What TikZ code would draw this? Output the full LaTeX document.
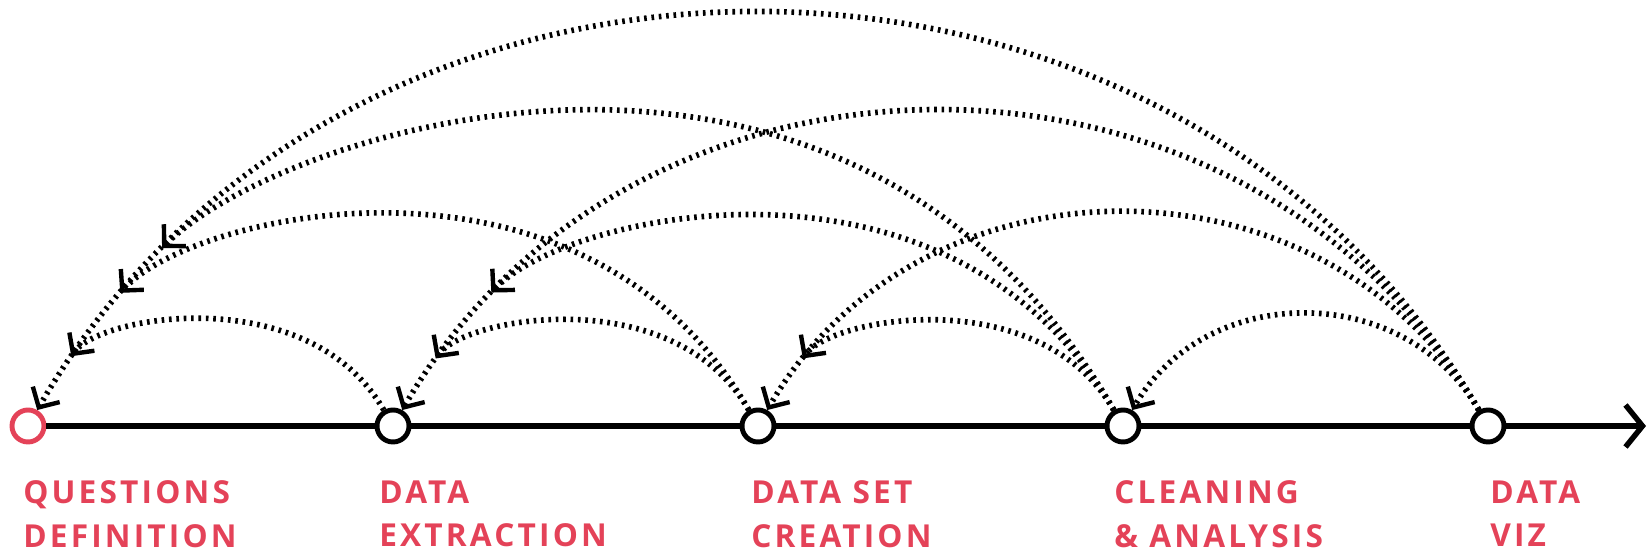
\documentclass[tikz,border=0pt]{standalone}
\usepackage{fontspec}
\newfontfamily\labelfont[LetterSpace=10]{Open Sans}
\definecolor{vizred}{RGB}{228,66,88}
\usetikzlibrary{arrows.meta,positioning}

\begin{document}
\begin{tikzpicture}[
    stage/.style={draw, circle, line width=2.8pt, fill=white,
                  minimum size=0.64cm, inner sep=0pt},
    axis/.style={line width=3.1pt},
    feedback/.style={line width=3.2pt, dash pattern=on 1.5pt off 2.7pt,
                 -{Straight Barb[length=0.3cm,width=0.62cm,line width=2.5pt]}},
    lbl/.style={anchor=north west, inner sep=0pt, align=left, text=vizred,
                font=\labelfont\bfseries\fontsize{18}{25}\selectfont}
  ]
  \useasboundingbox (0,-2.6) rectangle (32.96,8.52);
  % stages on the time line
  \node[stage, draw=vizred] (A) at (0.56,0) {};
  \node[stage] (B) at (7.86,0) {};
  \node[stage] (C) at (15.16,0) {};
  \node[stage] (D) at (22.46,0) {};
  \node[stage] (E) at (29.76,0) {};
  \coordinate (end) at (32.92,0);
  \draw[axis] (A) -- (B); \draw[axis] (B) -- (C);
  \draw[axis] (C) -- (D); \draw[axis] (D) -- (E);
  \draw[axis, -{Straight Barb[length=0.34cm,width=0.84cm]}] (E) -- (end);

  \node[lbl] (tA) at (0.46,-1.08) {QUESTIONS\\DEFINITION};
  \node[lbl] (tB) at (7.58,-1.08) {DATA\\EXTRACTION};
  \node[lbl] (tC) at (15.02,-1.08) {DATA SET\\CREATION};
  \node[lbl] (tD) at (22.28,-1.08) {CLEANING\\\& ANALYSIS};
  \node[lbl] (tE) at (29.8,-1.08) {DATA\\VIZ};

  % longest loop into each stage, the shorter ones end on it
  \draw[feedback] (E) to[out=120,in=60,looseness=1.09]
    coordinate[pos=0.965] (a1) coordinate[pos=0.92] (a2)
    coordinate[pos=0.885] (a3) (A);
  \draw[feedback] (E) to[out=120,in=60,looseness=1.1]
    coordinate[pos=0.955] (b1) coordinate[pos=0.89] (b2) (B);
  \draw[feedback] (E) to[out=120,in=60,looseness=1.1]
    coordinate[pos=0.93] (c1) (C);
  \draw[feedback] (E) to[out=120,in=60,looseness=1.1] (D);

  \draw[feedback] (B) to[out=120,in=54,out looseness=1.2,in looseness=0.42] (a1);
  \draw[feedback] (C) to[out=120,in=54,out looseness=1.2,in looseness=0.42] (b1);
  \draw[feedback] (D) to[out=120,in=54,out looseness=1.2,in looseness=0.42] (c1);
  \draw[feedback] (C) to[out=120,in=48,out looseness=1.32,in looseness=0.44] (a2);
  \draw[feedback] (D) to[out=120,in=47,out looseness=1.32,in looseness=0.44] (b2);
  \draw[feedback] (D) to[out=120,in=45,out looseness=1.42,in looseness=0.45] (a3);
\end{tikzpicture}
\end{document}
